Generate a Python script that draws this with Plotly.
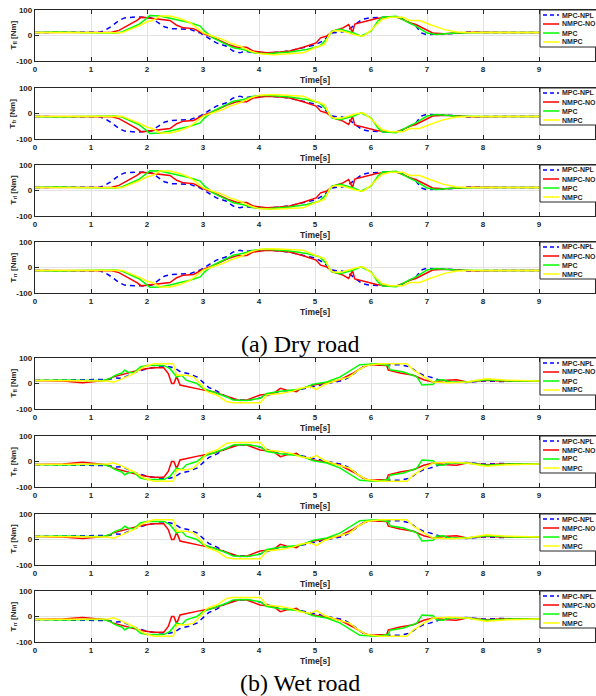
import plotly.graph_objects as go

# ---------------- data ----------------
SERIES = ["MPC-NPL", "NMPC-NO", "MPC", "NMPC"]
Y_LABELS = ["fl", "fr", "rl", "rr"]
CAPTIONS = ["(a) Dry road", "(b) Wet road"]
X_TICKS = [0, 1, 2, 3, 4, 5, 6, 7, 8, 9, 10]
Y_TICKS = [-100, 0, 100]
Y_TICK_TEXT = ["-100", "0", "100"]

# ---- Dry road ----
T_DRY_NPL = [0, 0.5, 1.0, 1.15, 1.25, 1.37, 1.5, 1.6, 1.8, 1.93, 2.08, 2.2, 2.32, 2.44, 2.6, 2.77, 2.95, 3.1, 3.24, 3.42,
             3.54, 3.66, 3.75, 3.9, 4.15, 4.4, 4.6, 4.8, 5.0, 5.15, 5.3, 5.5, 5.6, 5.72, 5.84, 5.96, 6.2, 6.5, 6.68, 6.8,
             6.9, 6.98, 7.2, 7.5, 7.7, 8.0, 8.5, 9.0]
DRY_FL_NPL = [12, 12, 12, 13, 20, 37, 59, 69, 73, 72, 69, 50, 33, 27, 26, 24, 10, -9, -29, -42,
              -61, -68, -61, -68, -68, -65, -58, -47, -37, -20, 10, 15, 23, 43, 63, 69, 72, 72, 50, 37,
              10, 4, 5, 8, 14, 12, 12, 12]
DRY_FR_NPL = [-12, -12, -12, -13, -20, -37, -59, -69, -73, -72, -69, -50, -33, -27, -26, -24, -10, 9, 29, 42,
              61, 68, 61, 68, 68, 65, 58, 47, 37, 20, -10, -15, -23, -43, -63, -69, -72, -72, -50, -37,
              -10, -4, -5, -8, -14, -12, -12, -12]
DRY_RL_NPL = [12, 12, 12, 13, 20, 37, 59, 69, 72, 72, 69, 50, 33, 27, 26, 24, 10, -9, -29, -42,
              -61, -68, -62, -68, -68, -65, -58, -47, -37, -20, 10, 15, 23, 43, 63, 69, 72, 72, 50, 37,
              10, 4, 5, 8, 14, 12, 12, 12]
DRY_RR_NPL = [-12, -12, -12, -13, -20, -37, -59, -69, -72, -72, -69, -50, -33, -27, -26, -24, -10, 9, 29, 42,
              61, 68, 62, 68, 68, 65, 58, 47, 37, 20, -10, -15, -23, -43, -63, -69, -72, -72, -50, -37,
              -10, -4, -5, -8, -14, -12, -12, -12]

T_DRY_NO = [0, 0.5, 1.0, 1.37, 1.5, 1.64, 1.82, 1.9, 2.05, 2.23, 2.41, 2.53, 2.65, 2.83, 2.98, 3.13, 3.3, 3.45, 3.6, 3.78,
            3.9, 4.14, 4.37, 4.55, 4.79, 5.02, 5.1, 5.2, 5.32, 5.5, 5.6, 5.67, 5.71, 5.92, 6.1, 6.28, 6.45, 6.57, 6.69,
            6.8, 7.0, 7.1, 7.3, 7.53, 7.8, 8.5, 9.0]
DRY_FL_NO = [12, 12, 12, 13, 20, 37, 59, 72, 69, 63, 59, 40, 30, 27, 10, -3, -20, -35, -46, -46,
             -61, -68, -65, -61, -46, -29, -9, -3, 17, 30, 43, 12, 45, 56, 67, 72, 72, 63, 50,
             43, 20, 10, 7, 10, 13, 12, 12]
DRY_FR_NO = [-12, -12, -12, -13, -20, -37, -59, -72, -69, -63, -59, -40, -30, -27, -10, 3, 20, 35, 46, 46,
             61, 68, 65, 61, 46, 29, 9, 3, -17, -30, -43, -12, -45, -56, -67, -72, -72, -63, -50,
             -43, -20, -10, -7, -10, -13, -12, -12]
DRY_RL_NO = [12, 12, 12, 13, 20, 37, 59, 72, 69, 63, 59, 40, 30, 27, 10, -3, -20, -35, -46, -47,
             -61, -68, -65, -61, -46, -29, -9, -3, 17, 30, 43, 12, 45, 56, 67, 72, 72, 63, 50,
             43, 20, 10, 7, 10, 13, 12, 12]
DRY_RR_NO = [-12, -12, -12, -13, -20, -37, -59, -72, -69, -63, -59, -40, -30, -27, -10, 3, 20, 35, 46, 47,
             61, 68, 65, 61, 46, 29, 9, 3, -17, -30, -43, -12, -45, -56, -67, -72, -72, -63, -50,
             -43, -20, -10, -7, -10, -13, -12, -12]

T_DRY_MPC = [0, 0.4, 0.8, 1.2, 1.43, 1.55, 1.7, 1.85, 1.97, 2.05, 2.23, 2.41, 2.59, 2.77, 2.95, 3.03, 3.18, 3.36, 3.54,
             3.72, 3.9, 4.14, 4.37, 4.55, 4.85, 5.08, 5.2, 5.3, 5.45, 5.69, 5.82, 6.0, 6.12, 6.2, 6.45, 6.6, 6.8, 7.0,
             7.16, 7.33, 7.5, 8.0, 9.0]
DRY_FL_MPC = [12, 14, 12, 12, 10, 14, 30, 43, 63, 78, 76, 69, 59, 50, 37, 17, -9, -29, -48,
              -55, -68, -72, -68, -65, -55, -42, -16, 17, 24, 10, -3, 17, 56, 72, 75, 59, 37, 10,
              4, 7, 10, 12, 12]
DRY_FR_MPC = [-12, -14, -12, -12, -10, -14, -30, -43, -63, -78, -76, -69, -59, -50, -37, -17, 9, 29, 48,
              55, 68, 72, 68, 65, 55, 42, 16, -17, -24, -10, 3, -17, -56, -72, -75, -59, -37, -10,
              -4, -7, -10, -12, -12]
DRY_RL_MPC = [12, 14, 12, 12, 10, 14, 30, 43, 63, 77, 76, 69, 59, 50, 37, 17, -9, -29, -48,
              -56, -68, -72, -68, -65, -55, -42, -16, 17, 24, 10, -3, 17, 56, 72, 75, 59, 37, 10,
              4, 7, 10, 12, 12]
DRY_RR_MPC = [-12, -14, -12, -12, -10, -14, -30, -43, -63, -77, -76, -69, -59, -50, -37, -17, 9, 29, 48,
              56, 68, 72, 68, 65, 55, 42, 16, -17, -24, -10, 3, -17, -56, -72, -75, -59, -37, -10,
              -4, -7, -10, -12, -12]

T_DRY_NMPC = [0, 0.5, 1.0, 1.55, 1.7, 1.88, 2.0, 2.1, 2.23, 2.41, 2.59, 2.77, 2.89, 3.0, 3.18, 3.36, 3.48, 3.66, 3.84,
              4.02, 4.26, 4.55, 4.79, 5.0, 5.17, 5.27, 5.35, 5.5, 5.74, 5.86, 5.98, 6.1, 6.2, 6.35, 6.57, 6.69, 6.87,
              7.05, 7.3, 7.53, 7.75, 8.5, 9.0]
DRY_FL_NMPC = [12, 12, 12, 11, 24, 40, 54, 59, 76, 76, 67, 50, 30, 10, -3, -16, -29, -42, -61,
               -72, -75, -72, -68, -48, -35, 10, 20, 17, 1, -3, 17, 43, 63, 72, 72, 59, 59,
               43, 24, 14, 12, 12, 12]
DRY_FR_NMPC = [-12, -12, -12, -11, -24, -40, -54, -59, -76, -76, -67, -50, -30, -10, 3, 16, 29, 42, 61,
               72, 75, 72, 68, 48, 35, -10, -20, -17, -1, 3, -17, -43, -63, -72, -72, -59, -59,
               -43, -24, -14, -12, -12, -12]
DRY_RL_NMPC = [12, 12, 12, 11, 24, 40, 54, 59, 76, 76, 67, 50, 30, 10, -3, -16, -29, -42, -61,
               -72, -74, -72, -68, -48, -35, 10, 20, 17, 1, -3, 17, 43, 63, 72, 72, 59, 59,
               43, 24, 14, 12, 12, 12]
DRY_RR_NMPC = [-12, -12, -12, -11, -24, -40, -54, -59, -76, -76, -67, -50, -30, -10, 3, 16, 29, 42, 61,
               72, 74, 72, 68, 48, 35, -10, -20, -17, -1, 3, -17, -43, -63, -72, -72, -59, -59,
               -43, -24, -14, -12, -12, -12]

# ---- Wet road ----
T_WET_NPL = [0, 0.5, 0.9, 1.2, 1.3, 1.45, 1.55, 1.65, 1.8, 2.0, 2.2, 2.4, 2.5, 2.6, 2.75, 2.9, 3.0, 3.1, 3.25, 3.4,
             3.6, 3.8, 4.0, 4.2, 4.4, 4.6, 4.75, 4.91, 5.09, 5.33, 5.51, 5.62, 5.74, 5.86, 5.98, 6.28, 6.52, 6.7,
             6.82, 6.94, 7.05, 7.23, 7.47, 7.71, 8.0, 8.3, 9.0]
WET_FL_NPL = [12, 13, 14, 14, 16, 22, 20, 30, 45, 58, 65, 66, 60, 45, 38, 25, 5, -15, -30, -50,
              -65, -65, -58, -42, -28, -30, -23, -15, -6, 6, 13, 26, 45, 65, 74, 74, 74, 65,
              45, 32, 26, 13, 6, 4, 10, 8, 10]
WET_FR_NPL = [-12, -13, -14, -14, -16, -22, -20, -30, -45, -58, -65, -66, -60, -45, -38, -25, -5, 15, 30, 50,
              65, 65, 58, 42, 28, 30, 23, 15, 6, -6, -13, -26, -45, -65, -74, -74, -74, -65,
              -45, -32, -26, -13, -6, -4, -10, -8, -10]
WET_RL_NPL = [12, 13, 14, 14, 16, 22, 20, 30, 45, 58, 64, 66, 60, 45, 38, 25, 5, -15, -30, -50,
              -65, -65, -58, -42, -28, -30, -23, -15, -6, 6, 13, 26, 45, 65, 74, 74, 74, 65,
              45, 32, 26, 13, 6, 4, 10, 8, 10]
WET_RR_NPL = [-12, -13, -14, -14, -16, -22, -20, -30, -45, -58, -64, -66, -60, -45, -38, -25, -5, 15, 30, 50,
              65, 65, 58, 42, 28, 30, 23, 15, 6, -6, -13, -26, -45, -65, -74, -74, -74, -65,
              -45, -32, -26, -13, -6, -4, -10, -8, -10]

T_WET_NO = [0, 0.5, 0.85, 1.08, 1.28, 1.4, 1.64, 1.88, 2.1, 2.3, 2.38, 2.44, 2.48, 2.53, 2.59, 2.77, 2.95, 3.18, 3.42,
            3.66, 3.78, 4.02, 4.26, 4.38, 4.5, 4.67, 4.73, 4.97, 5.21, 5.45, 5.68, 5.86, 5.98, 6.28, 6.31, 6.52, 6.76,
            6.94, 7.11, 7.35, 7.53, 7.71, 8.06, 8.3, 9.0]
WET_FL_NO = [12, 10, 3, 9, 13, 26, 41, 54, 62, 62, 39, 0, 0, 28, -6, -15, -23, -32, -49,
             -67, -65, -45, -39, -19, -26, -32, -22, -6, 3, 15, 41, 65, 74, 71, 52, 41, 32,
             15, 6, 13, 15, 6, 13, 10, 10]
WET_FR_NO = [-12, -10, -3, -9, -13, -26, -41, -54, -62, -62, -39, 0, 0, -28, 6, 15, 23, 32, 49,
             67, 65, 45, 39, 19, 26, 32, 22, 6, -3, -15, -41, -65, -74, -71, -52, -41, -32,
             -15, -6, -13, -15, -6, -13, -10, -10]
WET_RL_NO = [12, 10, 4, 9, 13, 26, 41, 54, 62, 62, 39, 0, 0, 28, -6, -15, -23, -32, -49,
             -67, -65, -45, -39, -19, -26, -32, -22, -6, 3, 15, 41, 65, 74, 71, 52, 41, 32,
             15, 6, 13, 15, 6, 13, 10, 10]
WET_RR_NO = [-12, -10, -4, -9, -13, -26, -41, -54, -62, -62, -39, 0, 0, -28, 6, 15, 23, 32, 49,
             67, 65, 45, 39, 19, 26, 32, 22, 6, -3, -15, -41, -65, -74, -71, -52, -41, -32,
             -15, -6, -13, -15, -6, -13, -10, -10]

T_WET_MPC = [0, 0.5, 1.0, 1.2, 1.34, 1.43, 1.55, 1.6, 1.66, 1.76, 1.88, 2.0, 2.3, 2.41, 2.53, 2.62, 2.7, 2.89, 3.0,
             3.18, 3.42, 3.54, 3.78, 4.02, 4.14, 4.38, 4.55, 4.73, 4.97, 5.21, 5.45, 5.68, 5.8, 6.1, 6.31, 6.34, 6.58,
             6.82, 6.91, 7.11, 7.17, 7.29, 7.41, 7.71, 8.06, 8.5, 9.0]
WET_FL_MPC = [12, 14, 12, 12, 19, 32, 41, 52, 45, 41, 65, 71, 71, 58, 26, 32, 13, 0, -19,
              -32, -52, -65, -67, -58, -39, -30, -26, -23, -3, 6, 26, 58, 74, 77, 71, 54, 45,
              26, -6, -3, 13, 15, 6, 6, 15, 10, 10]
WET_FR_MPC = [-12, -14, -12, -12, -19, -32, -41, -52, -45, -41, -65, -71, -71, -58, -26, -32, -13, 0, 19,
              32, 52, 65, 67, 58, 39, 30, 26, 23, 3, -6, -26, -58, -74, -77, -71, -54, -45,
              -26, 6, 3, -13, -15, -6, -6, -15, -10, -10]
WET_RL_MPC = [12, 14, 12, 12, 19, 32, 41, 52, 45, 41, 65, 71, 71, 58, 26, 32, 13, 0, -19,
              -32, -52, -65, -67, -58, -39, -30, -26, -23, -3, 6, 26, 58, 74, 77, 71, 54, 45,
              26, -6, -3, 13, 15, 6, 6, 15, 10, 10]
WET_RR_MPC = [-12, -14, -12, -12, -19, -32, -41, -52, -45, -41, -65, -71, -71, -58, -26, -32, -13, 0, 19,
              32, 52, 65, 67, 58, 39, 30, 26, 23, 3, -6, -26, -58, -74, -77, -71, -54, -45,
              -26, 6, 3, -13, -15, -6, -6, -15, -10, -10]

T_WET_NMPC = [0, 0.5, 1.0, 1.3, 1.4, 1.52, 1.76, 1.94, 2.12, 2.47, 2.53, 2.7, 2.83, 2.95, 3.07, 3.24, 3.42, 3.54,
              4.02, 4.14, 4.38, 4.61, 4.73, 4.91, 5.03, 5.15, 5.39, 5.62, 5.77, 5.92, 6.16, 6.64, 6.76, 6.94, 7.11,
              7.41, 7.71, 8.06, 8.42, 9.0]
WET_FL_NMPC = [12, 12, 12, 10, 5, 15, 39, 65, 77, 77, 32, 32, 26, 0, -32, -45, -71, -75,
               -75, -45, -39, -30, -19, -13, -23, -6, 13, 26, 52, 71, 77, 77, 52, 26, 6,
               3, 6, 19, 13, 10]
WET_FR_NMPC = [-12, -12, -12, -10, -5, -15, -39, -65, -77, -77, -32, -32, -26, 0, 32, 45, 71, 75,
               75, 45, 39, 30, 19, 13, 23, 6, -13, -26, -52, -71, -77, -77, -52, -26, -6,
               -3, -6, -19, -13, -10]
WET_RL_NMPC = [12, 12, 12, 10, 5, 15, 39, 65, 77, 77, 32, 32, 26, 0, -32, -45, -71, -75,
               -75, -45, -39, -30, -19, -13, -23, -6, 13, 26, 52, 71, 77, 77, 52, 26, 6,
               3, 6, 19, 13, 10]
WET_RR_NMPC = [-12, -12, -12, -10, -5, -15, -39, -65, -77, -77, -32, -32, -26, 0, 32, 45, 71, 75,
               75, 45, 39, 30, 19, 13, 23, 6, -13, -26, -52, -71, -77, -77, -52, -26, -6,
               -3, -6, -19, -13, -10]

# ---------------- assemble ----------------
PANELS = [
    ("fl", [(T_DRY_NPL, DRY_FL_NPL), (T_DRY_NO, DRY_FL_NO), (T_DRY_MPC, DRY_FL_MPC), (T_DRY_NMPC, DRY_FL_NMPC)]),
    ("fr", [(T_DRY_NPL, DRY_FR_NPL), (T_DRY_NO, DRY_FR_NO), (T_DRY_MPC, DRY_FR_MPC), (T_DRY_NMPC, DRY_FR_NMPC)]),
    ("rl", [(T_DRY_NPL, DRY_RL_NPL), (T_DRY_NO, DRY_RL_NO), (T_DRY_MPC, DRY_RL_MPC), (T_DRY_NMPC, DRY_RL_NMPC)]),
    ("rr", [(T_DRY_NPL, DRY_RR_NPL), (T_DRY_NO, DRY_RR_NO), (T_DRY_MPC, DRY_RR_MPC), (T_DRY_NMPC, DRY_RR_NMPC)]),
    ("fl", [(T_WET_NPL, WET_FL_NPL), (T_WET_NO, WET_FL_NO), (T_WET_MPC, WET_FL_MPC), (T_WET_NMPC, WET_FL_NMPC)]),
    ("fr", [(T_WET_NPL, WET_FR_NPL), (T_WET_NO, WET_FR_NO), (T_WET_MPC, WET_FR_MPC), (T_WET_NMPC, WET_FR_NMPC)]),
    ("rl", [(T_WET_NPL, WET_RL_NPL), (T_WET_NO, WET_RL_NO), (T_WET_MPC, WET_RL_MPC), (T_WET_NMPC, WET_RL_NMPC)]),
    ("rr", [(T_WET_NPL, WET_RR_NPL), (T_WET_NO, WET_RR_NO), (T_WET_MPC, WET_RR_MPC), (T_WET_NMPC, WET_RR_NMPC)]),
]

W, H = 596, 696
PANEL_TOPS = [10, 88, 165, 242, 358, 436, 514, 591]
PANEL_H = 51
X_LEFT, X_RIGHT = 35, 595
STYLES = [dict(color="#0000FF", width=1.5, dash="5px,4px"),
          dict(color="#FF0000", width=1.5),
          dict(color="#00FF00", width=1.5),
          dict(color="#FFFF00", width=1.5)]
AXCOL = "#262626"
FONT = "Liberation Sans, Arial, sans-serif"


def px(x):
    return x / W


def py(y):
    return 1 - y / H


fig = go.Figure()
layout = dict(width=W, height=H, margin=dict(l=0, r=0, t=0, b=0, autoexpand=False),
              paper_bgcolor="white", plot_bgcolor="white", showlegend=False)
annotations = []
shapes = []

for i, (lab, series) in enumerate(PANELS):
    n = i + 1
    for (t, v), st, name in zip(series, STYLES, SERIES):
        fig.add_trace(go.Scatter(x=t, y=v, mode="lines", line=st, name=name,
                                 xaxis=f"x{n}", yaxis=f"y{n}", hoverinfo="skip", showlegend=False))
    top = PANEL_TOPS[i]
    bot = top + PANEL_H
    common = dict(showline=True, linecolor=AXCOL, linewidth=1.3, mirror="ticks",
                  ticks="inside", ticklen=4, tickwidth=1.3, tickcolor=AXCOL,
                  showgrid=True, gridcolor="#e3e3e3", gridwidth=1, zeroline=False, automargin=False,
                  tickfont=dict(family=FONT, size=8, color=AXCOL, weight="bold"))
    layout[f"xaxis{n}"] = dict(domain=[px(X_LEFT), px(X_RIGHT)], anchor=f"y{n}", range=[0, 10],
                               tickvals=X_TICKS, ticktext=[str(v) for v in X_TICKS], **common)
    layout[f"yaxis{n}"] = dict(domain=[py(bot), py(top)], anchor=f"x{n}", range=[-100, 100],
                               tickvals=Y_TICKS, ticktext=Y_TICK_TEXT, **common)
    # y label
    annotations.append(dict(x=px(13), y=py(top + PANEL_H / 2), xref="paper", yref="paper",
                            text=f"T<sub>{lab}</sub> [Nm]", textangle=-90, showarrow=False,
                            font=dict(family=FONT, size=8, color=AXCOL, weight="bold"),
                            xanchor="center", yanchor="middle"))
    # x label
    annotations.append(dict(x=px(315), y=py(bot + 19), xref="paper", yref="paper",
                            text="Time[s]", showarrow=False,
                            font=dict(family=FONT, size=8.5, color=AXCOL, weight="bold"),
                            xanchor="center", yanchor="middle"))
    # legend box
    lx0, ly0 = 540, top
    shapes.append(dict(type="rect", xref="paper", yref="paper", x0=px(lx0), x1=px(W + 5),
                       y0=py(ly0 + 37), y1=py(ly0), fillcolor="white",
                       line=dict(color=AXCOL, width=1), layer="above"))
    for k, (st, name) in enumerate(zip(STYLES, SERIES)):
        yy = ly0 + 5 + 9 * k
        shapes.append(dict(type="line", xref="paper", yref="paper", x0=px(543), x1=px(559),
                           y0=py(yy), y1=py(yy),
                           line=dict(color=st["color"], width=1.5, dash="4px,3px" if k == 0 else "solid"),
                           layer="above"))
        annotations.append(dict(x=px(560), y=py(yy), xref="paper", yref="paper", text=name,
                                showarrow=False, xanchor="left", yanchor="middle",
                                font=dict(family=FONT, size=7, color=AXCOL, weight="bold")))

for cap, yc in zip(CAPTIONS, [344, 683]):
    annotations.append(dict(x=px(300), y=py(yc), xref="paper", yref="paper", text=cap, showarrow=False,
                            xanchor="center", yanchor="middle",
                            font=dict(family="Liberation Serif, Times New Roman, serif", size=24, color="black")))

layout["annotations"] = annotations
layout["shapes"] = shapes
fig.update_layout(**layout)
fig.write_html("out.html", config={"displayModeBar": False},
               post_script="document.body.style.margin='0';document.body.style.padding='0';")
